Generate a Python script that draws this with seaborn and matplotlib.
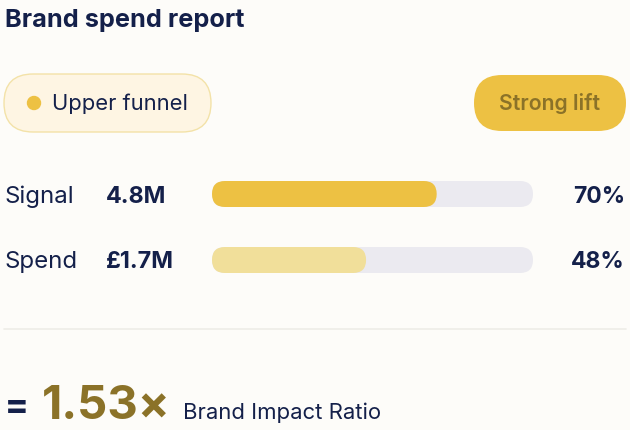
import matplotlib
matplotlib.use("Agg")
import matplotlib.pyplot as plt
from matplotlib.patches import FancyBboxPatch, Circle
import seaborn as sns
import pandas as pd

# ---- data ----
title = "Brand spend report"
segment = "Upper funnel"
badge = "Strong lift"
metrics = ["Signal", "Spend"]
values_text = ["4.8M", "£1.7M"]
shares = [70, 48]
ratio_text = "1.53×"
ratio_label = "Brand Impact Ratio"

BG = "#FDFCF9"
NAVY = "#14204A"
GOLD = "#EDC143"
PALE = "#F1DF9A"
TRACK = "#EBEAF0"
OLIVE = "#8B7228"

sns.set_theme(style="white")
plt.rcParams["font.family"] = ["Inter", "DejaVu Sans"]

W, H = 630, 430
fig = plt.figure(figsize=(W / 100, H / 100), dpi=100, facecolor=BG)
ax = fig.add_axes([0, 0, 1, 1])
ax.set_xlim(0, W)
ax.set_ylim(H, 0)
ax.axis("off")
ax.set_facecolor(BG)

# title
ax.text(5, 27, title, fontsize=18.2, fontweight="bold", color=NAVY, va="baseline", ha="left")

# segment pill
ax.add_patch(FancyBboxPatch((4 + 29, 103), 207 - 58, 0, boxstyle="round,pad=29",
                            facecolor="#FEF5E3", edgecolor="#F3E2A8", linewidth=1))
ax.add_patch(Circle((34, 103), 6.5, color=GOLD))
ax.text(52, 110, segment, fontsize=15.8, color=NAVY, va="baseline", ha="left")

# badge pill
ax.add_patch(FancyBboxPatch((474 + 28, 103), 152 - 56, 0, boxstyle="round,pad=28",
                            facecolor=GOLD, edgecolor="none"))
ax.text(550, 110.5, badge, fontsize=15.3, fontweight="semibold", color=OLIVE,
        va="baseline", ha="center")

# row labels
baselines = [203, 268]
for m, v, s, yb in zip(metrics, values_text, shares, baselines):
    ax.text(5, yb, m, fontsize=17.3, color=NAVY, va="baseline", ha="left")
    ax.text(106, yb, v, fontsize=16.8, fontweight="bold", color=NAVY, va="baseline", ha="left")
    ax.text(625, yb, f"{s}%", fontsize=16.5, fontweight="bold", color=NAVY, va="baseline", ha="right")

# separator
ax.plot([4, 626], [329, 329], color="#EEEDE8", lw=1.2)

# ratio
ax.text(5, 416, "=", fontsize=25, fontweight="heavy", color=NAVY, va="baseline", ha="left")
ax.text(42, 419, ratio_text, fontsize=34, fontweight="bold", color=OLIVE, va="baseline", ha="left")
ax.text(183, 419, ratio_label, fontsize=15.9, color=NAVY, va="baseline", ha="left")

# ---- bars ----
x0, x1 = 212, 533
y0, y1 = 161, 293
bax = fig.add_axes([x0 / W, 1 - y1 / H, (x1 - x0) / W, (y1 - y0) / H])
df = pd.DataFrame({"metric": metrics, "share": shares, "track": [100] * len(metrics)})
bar_h = 26 / 66
sns.barplot(data=df, y="metric", x="track", color=TRACK, width=bar_h, ax=bax, orient="h",
            saturation=1)
sns.barplot(data=df, y="metric", x="share", hue="metric", palette=[GOLD, PALE],
            width=bar_h, ax=bax, orient="h", legend=False, dodge=False, saturation=1)
bax.set_xlim(0, 100)
bax.set_ylim(1.5, -0.5)
bax.axis("off")
bax.patch.set_alpha(0)

# round the bar ends
px_x = 100 / (x1 - x0)
px_y = 1 / 66
aspect = px_y / px_x
r = 13 * px_x
for p in list(bax.patches):
    x, y = p.get_x(), p.get_y()
    w, h = p.get_width(), p.get_height()
    fc = p.get_facecolor()
    z = p.get_zorder()
    p.remove()
    bax.add_patch(FancyBboxPatch((x, y), w, h, boxstyle=f"round,pad=0,rounding_size={r}",
                                 mutation_aspect=aspect, facecolor=fc, edgecolor="none",
                                 zorder=z))

fig.savefig("out.png", dpi=100, facecolor=BG)
